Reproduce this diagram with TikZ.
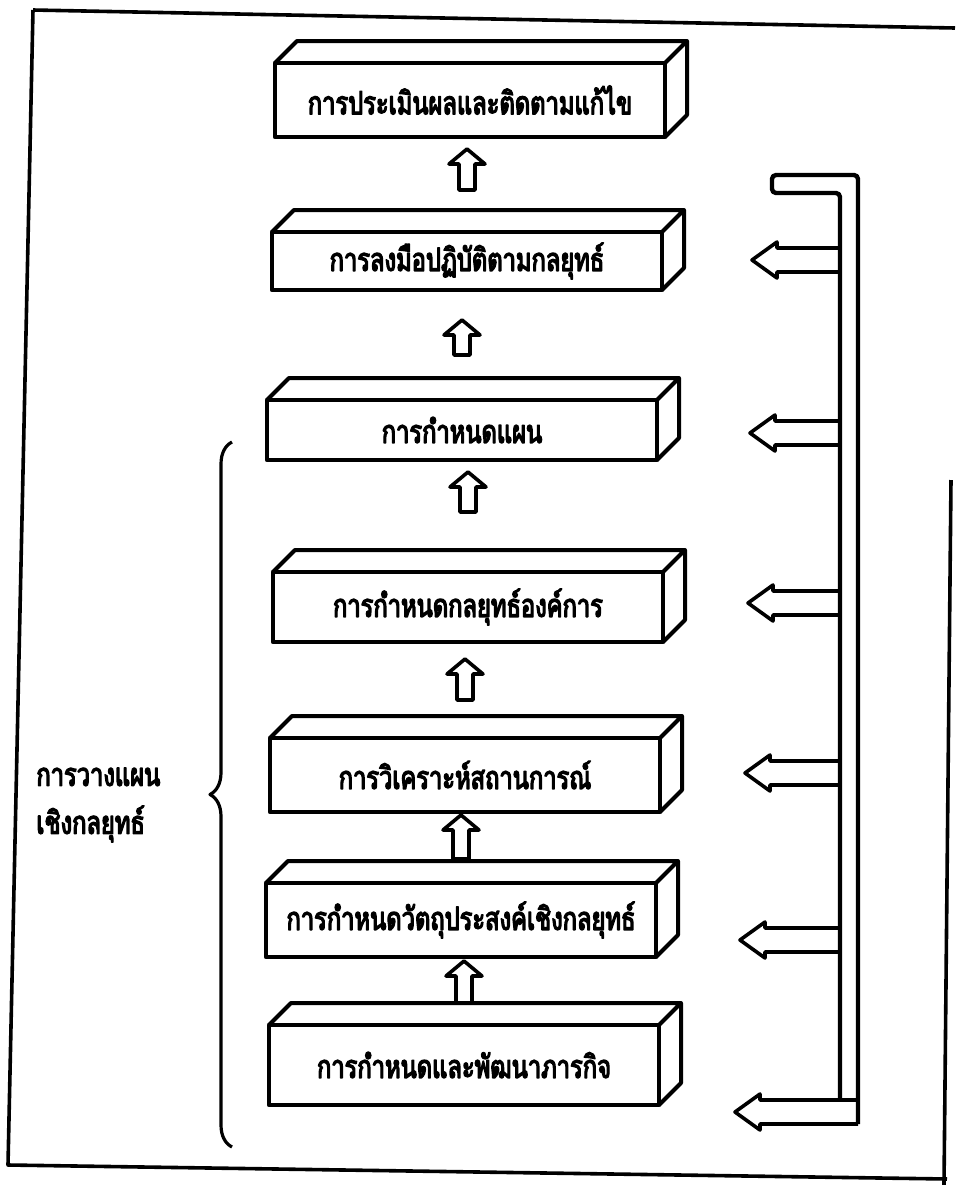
\documentclass[tikz,border=0pt]{standalone}
\usepackage{fontspec}
\newfontfamily\thaifont[Script=Thai, FakeStretch=0.74, FakeBold=4]{Loma}
\usetikzlibrary{calc,decorations.pathreplacing}

\newcommand{\stepup}[4]{%
\draw[blockline] let \p1 = ($(#1.north)+(0,-#3)$), \p2 = ($(#2.south)+(0,#4)$) in
(\x1-4pt,\y1) -- (\x1-4pt,\y2-7.5pt) -- (\x1-9pt,\y2-7.5pt) -- (\x1,\y2) -- (\x1+9pt,\y2-7.5pt) -- (\x1+4pt,\y2-7.5pt) -- (\x1+4pt,\y1) -- cycle;}
\newcommand{\fbarrow}[2]{%
\draw[blockline] (#1) ++(0,-12) -- ++(-#2,0) -- ++(0,-6) -- ++(-25,18) -- ++(25,18) -- ++(0,-6) -- ++(#2,0);}

\begin{document}
\begin{tikzpicture}[x=0.5pt, y=-0.5pt, line join=round,
  slab/.style={draw, line width=2.2pt, fill=white, minimum width=195pt, minimum height=37pt, inner sep=0pt, outer sep=0pt, font=\thaifont\fontsize{16}{18}\selectfont},
  slabline/.style={line width=2pt},
  blockline/.style={line width=1.8pt},
  pipeline/.style={line width=2.2pt},
  frameline/.style={line width=1.8pt}]

\useasboundingbox (0,0) rectangle (955,1185);

\node[slab] (b1) at (470,100) {การประเมินผลและติดตามแก้ไข};
\node[slab, minimum height=29pt] (b2) at (467,261) {การลงมือปฏิบัติตามกลยุทธ์};
\node[slab, minimum height=30pt] (b3) at (462,430) {การกำหนดแผน};
\node[slab, minimum height=35pt] (b4) at (468,607) {การกำหนดกลยุทธ์องค์การ};
\node[slab] (b5) at (465,775) {การวิเคราะห์สถานการณ์};
\node[slab] (b6) at (461,920) {การกำหนดวัตถุประสงค์เชิงกลยุทธ์};
\node[slab, minimum height=40pt] (b7) at (464,1065) {การกำหนดและพัฒนาภารกิจ};

\foreach \n in {b1,b2,b3,b4,b5,b6,b7}
  \draw[slabline] (\n.north west) -- ++(22,-22) -| ($(\n.south east)+(22,-22)$) -- (\n.south east)
    (\n.north east) -- ++(22,-22);

\stepup{b2}{b1}{42}{12}
\stepup{b3}{b2}{45}{30}
\stepup{b4}{b3}{60}{12}
\stepup{b5}{b4}{38}{17}
\stepup{b6}{b5}{24}{3}
\stepup{b7}{b6}{22}{4}

\draw[pipeline, rounded corners=2pt] (840,1100) -- (840,193) -- (772,193) -- (772,175) -- (858,175) -- (858,1124);
\coordinate (f2) at (840,260);
\coordinate (f3) at (840,433);
\coordinate (f4) at (840,603);
\coordinate (f5) at (840,773);
\coordinate (f6) at (840,940);
\coordinate (f7) at (858,1112);
\fbarrow{f2}{63}
\fbarrow{f3}{65}
\fbarrow{f4}{67}
\fbarrow{f5}{70}
\fbarrow{f6}{75}
\fbarrow{f7}{98}

\draw[line width=1.6pt, decorate, decoration={brace, amplitude=11pt}] (232,1147) -- (232,442);
\node[anchor=west, align=left, inner sep=0pt, font=\thaifont\fontsize{16}{24}\selectfont] (lbl) at (36,805) {การวางแผน\\เชิงกลยุทธ์};

\draw[frameline] (33,10) -- (955,28);
\draw[frameline] (33,10) -- (8,1165) -- (947,1179);
\draw[frameline] (951,480) -- (944,1185);
\end{tikzpicture}
\end{document}
